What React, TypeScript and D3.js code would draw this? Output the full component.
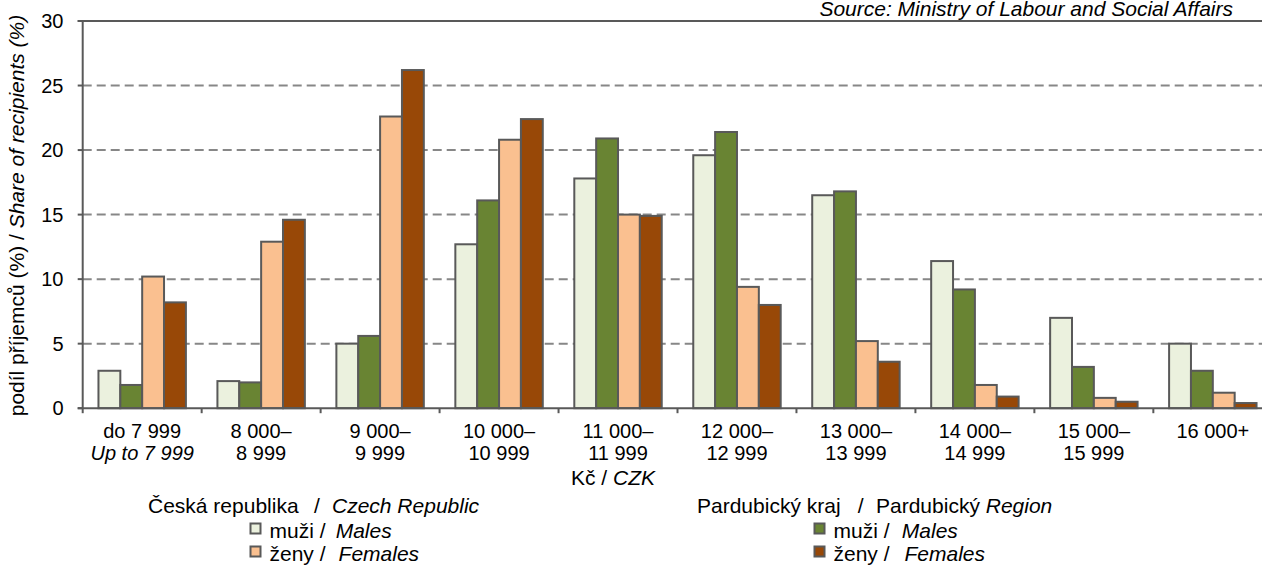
import React from "react";
import * as d3 from "d3";

// Income bands (Kč / CZK)
const bandTop = ["do 7 999", "8 000–", "9 000–", "10 000–", "11 000–", "12 000–", "13 000–", "14 000–", "15 000–", "16 000+"];
const bandBottom = ["Up to 7 999", "8 999", "9 999", "10 999", "11 999", "12 999", "13 999", "14 999", "15 999", ""];

// Share of recipients (%)
const czMales = [2.9, 2.1, 5.0, 12.7, 17.8, 19.6, 16.5, 11.4, 7.0, 5.0];
const pkMales = [1.8, 2.0, 5.6, 16.1, 20.9, 21.4, 16.8, 9.2, 3.2, 2.9];
const czFemales = [10.2, 12.9, 22.6, 20.8, 15.0, 9.4, 5.2, 1.8, 0.8, 1.2];
const pkFemales = [8.2, 14.6, 26.2, 22.4, 14.9, 8.0, 3.6, 0.9, 0.5, 0.4];

const yTicks = [0, 5, 10, 15, 20, 25, 30];

const seriesKeys = ["czM", "pkM", "czF", "pkF"];
const seriesValues: Record<string, number[]> = { czM: czMales, pkM: pkMales, czF: czFemales, pkF: pkFemales };
const seriesColors: Record<string, string> = {
  czM: "#EBF1DE",
  pkM: "#698433",
  czF: "#FAC090",
  pkF: "#984807",
};

const W = 1262;
const H = 565;
const FONT = "'Liberation Sans', Arial, sans-serif";
const AXIS = "#595959";

function LegendItem({ x, y, color, cz, en, enX }: { x: number; y: number; color: string; cz: string; en: string; enX: number }) {
  return (
    <g>
      <rect x={x} y={y - 14} width={10} height={10} fill={color} stroke={AXIS} strokeWidth={2} />
      <text x={x + 19} y={y} fontSize={21}>
        {cz}
      </text>
      <text x={enX} y={y} fontSize={21} fontStyle="italic">
        {en}
      </text>
    </g>
  );
}

export default function App() {
  const left = 82.7;
  const right = 1272.3;
  const top = 21;
  const bottom = 408.2;

  const x0 = d3
    .scaleBand<number>()
    .domain(d3.range(bandTop.length))
    .range([left, right])
    .paddingInner(0.265)
    .paddingOuter(0.1325);
  const step = x0.step();
  const x1 = d3.scaleBand<string>().domain(seriesKeys).range([0, x0.bandwidth()]);
  const y = d3.scaleLinear().domain([0, 30]).range([bottom, top]);

  const catStart = (i: number) => left + i * step;
  const catCenter = (i: number) => left + (i + 0.5) * step;

  return (
    <svg
      width={W}
      height={H}
      style={{ position: "absolute", left: 0, top: 0, display: "block", background: "#fff" }}
      fontFamily={FONT}
    >
      <rect width={W} height={H} fill="#fff" />

      {/* gridlines */}
      {yTicks
        .filter((t) => t > 0 && t < 30)
        .map((t) => (
          <line
            key={"g" + t}
            x1={left}
            x2={right}
            y1={y(t)}
            y2={y(t)}
            stroke="#878787"
            strokeWidth={2}
            strokeDasharray="9,5"
          />
        ))}
      <line x1={left - 5} x2={W} y1={y(30)} y2={y(30)} stroke={AXIS} strokeWidth={2} />

      {/* bars */}
      {bandTop.map((_, i) => (
        <g key={"c" + i} transform={`translate(${x0(i)},0)`}>
          {seriesKeys.map((k) => {
            const v = seriesValues[k][i];
            return (
              <rect
                key={k}
                x={x1(k)}
                y={y(v)}
                width={x1.bandwidth()}
                height={bottom - y(v)}
                fill={seriesColors[k]}
                stroke={AXIS}
                strokeWidth={2}
              />
            );
          })}
        </g>
      ))}

      {/* y axis */}
      <line x1={left} x2={left} y1={top} y2={bottom} stroke={AXIS} strokeWidth={2} />
      {yTicks.map((t) => (
        <g key={"yt" + t}>
          <line x1={left - 5} x2={left} y1={y(t)} y2={y(t)} stroke={AXIS} strokeWidth={2} />
          <text x={63.5} y={y(t) + 7} textAnchor="end" fontSize={20} fill="#000">
            {t}
          </text>
        </g>
      ))}

      {/* x axis */}
      <line x1={left - 5} x2={right} y1={bottom} y2={bottom} stroke={AXIS} strokeWidth={2} />
      {d3.range(bandTop.length + 1).map((i) => (
        <line key={"xt" + i} x1={catStart(i)} x2={catStart(i)} y1={bottom} y2={bottom + 5} stroke={AXIS} strokeWidth={2} />
      ))}
      {bandTop.map((lab, i) => (
        <g key={"xl" + i}>
          <text x={catCenter(i)} y={438} textAnchor="middle" fontSize={20}>
            {lab}
          </text>
          <text x={catCenter(i)} y={460} textAnchor="middle" fontSize={20} fontStyle={i === 0 ? "italic" : "normal"}>
            {bandBottom[i]}
          </text>
        </g>
      ))}
      <text x={613} y={485} textAnchor="middle" fontSize={21}>
        Kč / <tspan fontStyle="italic">CZK</tspan>
      </text>

      {/* y title */}
      <text transform="translate(24,215.5) rotate(-90)" textAnchor="middle" fontSize={21}>
        podíl příjemců (%) / <tspan fontStyle="italic">Share of recipients (%)</tspan>
      </text>

      {/* source */}
      <text x={1233} y={16} textAnchor="end" fontSize={21} fontStyle="italic">
        Source: Ministry of Labour and Social Affairs
      </text>

      {/* legend: Czech Republic */}
      <text x={148} y={513} fontSize={21}>
        Česká republika
      </text>
      <text x={314} y={513} fontSize={21}>
        /
      </text>
      <text x={332} y={513} fontSize={21} fontStyle="italic">
        Czech Republic
      </text>
      <LegendItem x={250.5} y={537.5} color={seriesColors.czM} cz="muži /" en="Males" enX={335.7} />
      <LegendItem x={250.5} y={560.5} color={seriesColors.czF} cz="ženy /" en="Females" enX={338.6} />

      {/* legend: Pardubice Region */}
      <text x={697} y={513} fontSize={21}>
        Pardubický kraj
      </text>
      <text x={857.7} y={513} fontSize={21}>
        /
      </text>
      <text x={876} y={513} fontSize={21}>
        Pardubický <tspan fontStyle="italic">Region</tspan>
      </text>
      <LegendItem x={814.5} y={537.5} color={seriesColors.pkM} cz="muži /" en="Males" enX={901.8} />
      <LegendItem x={814.5} y={560.5} color={seriesColors.pkF} cz="ženy /" en="Females" enX={904.5} />
    </svg>
  );
}
